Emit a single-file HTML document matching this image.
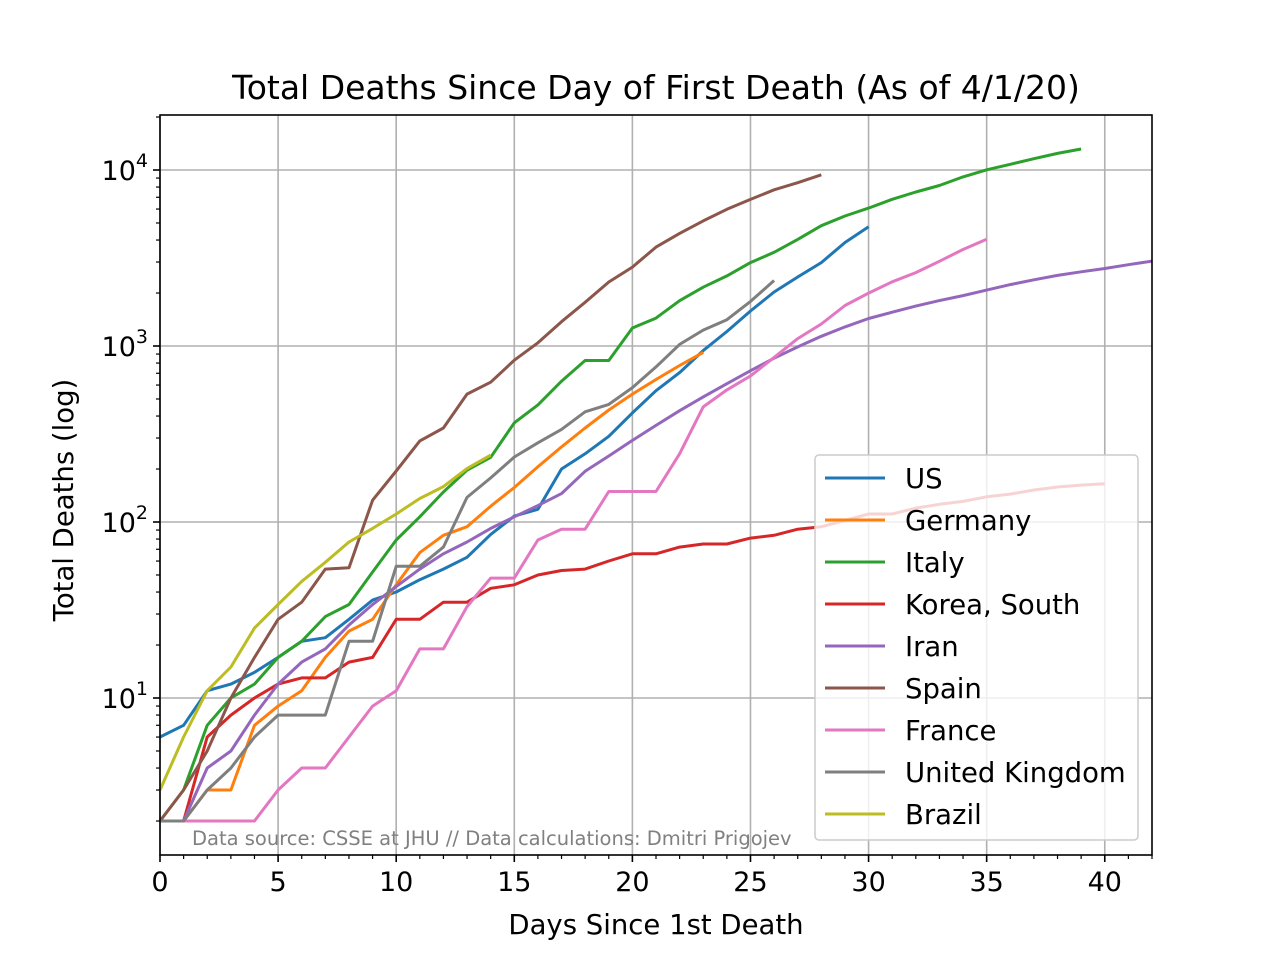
<!DOCTYPE html>
<html><head><meta charset="utf-8"><style>
body{margin:0;background:#fff}
svg text{font-family:"DejaVu Sans","Liberation Sans",sans-serif}
</style></head><body>
<svg id="chart" width="1280" height="960" xmlns="http://www.w3.org/2000/svg">
<rect width="1280" height="960" fill="#fff"/>
<g id="grid"></g><g id="lines"></g><g id="axes"></g><g id="legend"></g>
</svg>
<script>
const names=["US","Germany","Italy","Korea, South","Iran","Spain","France","United Kingdom","Brazil"];
const colors=["#1f77b4","#ff7f0e","#2ca02c","#d62728","#9467bd","#8c564b","#e377c2","#7f7f7f","#bcbd22"];
const usVals=[6,7,11,12,14,17,21,22,28,36,40,47,54,63,85,108,118,200,244,307,417,557,706,942,1209,1581,2026,2467,2978,3873,4757];
const germanyVals=[2,2,3,3,7,9,11,17,24,28,44,67,84,94,123,157,206,267,342,433,533,645,775,920];
const italyVals=[2,3,7,10,12,17,21,29,34,52,79,107,148,197,233,366,463,631,827,827,1266,1441,1809,2158,2503,2978,3405,4032,4825,5476,6077,6820,7503,8165,9134,10023,10779,11591,12428,13155];
const koreaVals=[2,2,6,8,10,12,13,13,16,17,28,28,35,35,42,44,50,53,54,60,66,66,72,75,75,81,84,91,94,102,111,111,120,126,131,139,144,152,158,162,165];
const iranVals=[2,2,4,5,8,12,16,19,26,34,43,54,66,77,92,107,124,145,194,237,291,354,429,514,611,724,853,988,1135,1284,1433,1556,1685,1812,1934,2077,2234,2378,2517,2640,2757,2898,3036];
const spainVals=[2,3,5,10,17,28,35,54,55,133,195,289,342,533,623,830,1043,1375,1772,2311,2808,3647,4365,5138,5982,6803,7716,8464,9387];
const franceVals=[2,2,2,2,2,3,4,4,6,9,11,19,19,33,48,48,79,91,91,149,149,149,244,451,563,676,862,1102,1333,1698,1997,2317,2611,3030,3532,4043];
const ukVals=[2,2,3,4,6,8,8,8,21,21,56,56,72,138,178,234,282,336,423,466,580,761,1021,1231,1411,1793,2357];
const brazilVals=[3,6,11,15,25,34,46,59,77,92,111,136,159,201,240];
const series=[usVals,germanyVals,italyVals,koreaVals,iranVals,spainVals,franceVals,ukVals,brazilVals];
const xTicks=[0,5,10,15,20,25,30,35,40];
const yTicks=[1,2,3,4];

const L=160,R=1152,T=115,B=855;
const X=d=>L+d*(R-L)/42;
const Y=v=>698-(Math.log10(v)-1)*176;
const NS="http://www.w3.org/2000/svg";
function mk(tag,attrs,parent,text){const e=document.createElementNS(NS,tag);for(const k in attrs)e.setAttribute(k,attrs[k]);if(text!==undefined)e.textContent=text;parent.appendChild(e);return e;}
const grid=document.getElementById('grid'),lines=document.getElementById('lines'),axes=document.getElementById('axes'),leg=document.getElementById('legend');
xTicks.forEach(t=>{
 const g=mk('line',{x1:X(t),x2:X(t),y1:T,y2:B,stroke:'#b0b0b0','stroke-width':1.6},grid);
 
 mk('line',{x1:X(t),x2:X(t),y1:B,y2:B+7,stroke:'#000','stroke-width':1.6},axes);
 const tx=mk('text',{x:X(t),y:B+36,'font-size':27,'text-anchor':'middle'},axes,String(t));
 
});
for(let d=0;d<=42;d++){if(d%5)mk('line',{x1:X(d),x2:X(d),y1:B,y2:B+4,stroke:'#000','stroke-width':1.2},axes);}
yTicks.forEach(p=>{
 const y=Y(Math.pow(10,p));
 const g=mk('line',{x1:L,x2:R,y1:y,y2:y,stroke:'#b0b0b0','stroke-width':1.6},grid);
 
 mk('line',{x1:L-7,x2:L,y1:y,y2:y,stroke:'#000','stroke-width':1.6},axes);
 const tx=mk('text',{x:L-12,y:y+10,'font-size':27,'text-anchor':'end'},axes);
 
 tx.appendChild(document.createTextNode('10'));
 mk('tspan',{dy:-13,'font-size':19},tx,String(p));
});
for(let p=0;p<=4;p++)for(let m=2;m<=9;m++){const v=m*Math.pow(10,p);const y=Y(v);if(y>T&&y<B)mk('line',{x1:L-4,x2:L,y1:y,y2:y,stroke:'#000','stroke-width':1.2},axes);}
series.forEach((vals,i)=>{
 const pts=vals.map((v,d)=>X(d).toFixed(1)+','+Y(v).toFixed(1)).join(' ');
 const pl=mk('polyline',{points:pts,fill:'none',stroke:colors[i],'stroke-width':3,'stroke-linejoin':'round'},lines);
 
 
});
mk('rect',{x:L,y:T,width:R-L,height:B-T,fill:'none',stroke:'#000','stroke-width':1.6},axes);
const title=mk('text',{x:656,y:99,'font-size':33,'text-anchor':'middle'},axes,'Total Deaths Since Day of First Death (As of 4/1/20)');

const xl=mk('text',{x:656,y:934,'font-size':27.5,'text-anchor':'middle'},axes,'Days Since 1st Death');

const yl=mk('text',{x:0,y:0,'font-size':27.5,'text-anchor':'middle',transform:'translate(73,500) rotate(-90)'},axes,'Total Deaths (log)');

const src=mk('text',{x:192,y:845,'font-size':19.5,fill:'#808080'},axes,'Data source: CSSE at JHU // Data calculations: Dmitri Prigojev');

const box=mk('rect',{x:815,y:455,width:323,height:385,rx:4,fill:'rgba(255,255,255,0.8)',stroke:'#ccc','stroke-width':1.5},leg);

names.forEach((n,i)=>{
 const y=478+i*42;
 const g=mk('g',{},leg);
 
 mk('line',{x1:825,x2:885,y1:y,y2:y,stroke:colors[i],'stroke-width':3},g);
 mk('text',{x:905,y:y+10,'font-size':27.5},g,n);
});
</script>
</body></html>
